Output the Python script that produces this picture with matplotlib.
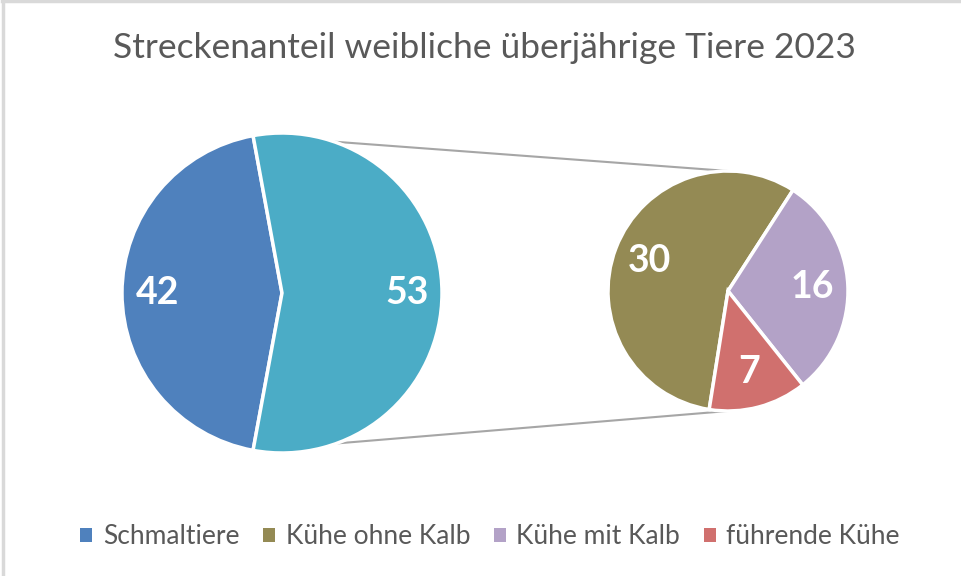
import numpy as np
import matplotlib.pyplot as plt

# Daten
haupt_label = "Schmaltiere"
haupt_wert = 42
teil_labels = ["Kühe ohne Kalb", "Kühe mit Kalb", "führende Kühe"]
teil_werte = [30, 16, 7]
titel = "Streckenanteil weibliche überjährige Tiere 2023"

farbe_haupt = "#4F81BD"
farbe_rest = "#4BACC6"
teil_farben = ["#948A54", "#B3A2C7", "#D0706E"]

plt.rcParams['font.family'] = ['Lato', 'DejaVu Sans']

fig = plt.figure(figsize=(9.61, 5.76), dpi=100)
ax = fig.add_axes([0, 0, 1, 1])

rest = sum(teil_werte)
links = [haupt_wert, rest]
gesamt_links = sum(links)

# linker Kreis
c1, r1 = (282, 283), 160
start1 = 180 - haupt_wert / gesamt_links * 180
w1, t1, a1 = ax.pie(links, colors=[farbe_haupt, farbe_rest], startangle=start1,
                    center=c1, radius=r1, pctdistance=0.78,
                    autopct=lambda p: f"{p * gesamt_links / 100:.0f}",
                    wedgeprops=dict(edgecolor="white", linewidth=2.5))

# rechter Kreis
c2, r2 = (728, 285), 120
start2 = 57.2 + teil_werte[0] / rest * 360
w2, t2, a2 = ax.pie(teil_werte, colors=teil_farben, startangle=start2,
                    counterclock=False, center=c2, radius=r2, pctdistance=0.7,
                    autopct=lambda p: f"{p * rest / 100:.0f}",
                    wedgeprops=dict(edgecolor="white", linewidth=2.5))

for t in list(a1) + list(a2):
    t.set_color("white")
    t.set_fontsize(27)
    t.set_fontweight("bold")

# Verbindungslinien
for ang, ziel_y in [(start1, c2[1] + r2), (start1 + haupt_wert / gesamt_links * 360, c2[1] - r2)]:
    x0 = c1[0] + r1 * np.cos(np.radians(ang))
    y0 = c1[1] + r1 * np.sin(np.radians(ang))
    ax.plot([x0, c2[0]], [y0, ziel_y], color="#A6A6A6", lw=1.5, zorder=0.5)

ax.set_xlim(0, 961)
ax.set_ylim(0, 576)
ax.set_aspect("equal")
ax.axis("off")

ax.text(484, 576 - 48, titel, ha="center", va="center", fontsize=25.5, color="#595959")

# Rahmen oben/links
ax.plot([2, 961], [575, 575], color="#D9D9D9", lw=2.5, clip_on=False)
ax.plot([2.5, 2.5], [0, 576], color="#D9D9D9", lw=2.5, clip_on=False)

handles = [w1[0]] + list(w2)
leg = fig.legend(handles, [haupt_label] + teil_labels, loc="center",
                 bbox_to_anchor=(490 / 961, 1 - 537 / 576), ncol=4, frameon=False,
                 fontsize=19, handlelength=0.45, handleheight=0.45, handletextpad=0.4,
                 columnspacing=0.9, labelcolor="#595959")
for h in leg.legend_handles:
    h.set_edgecolor("none")

fig.savefig("out.png", dpi=100)
